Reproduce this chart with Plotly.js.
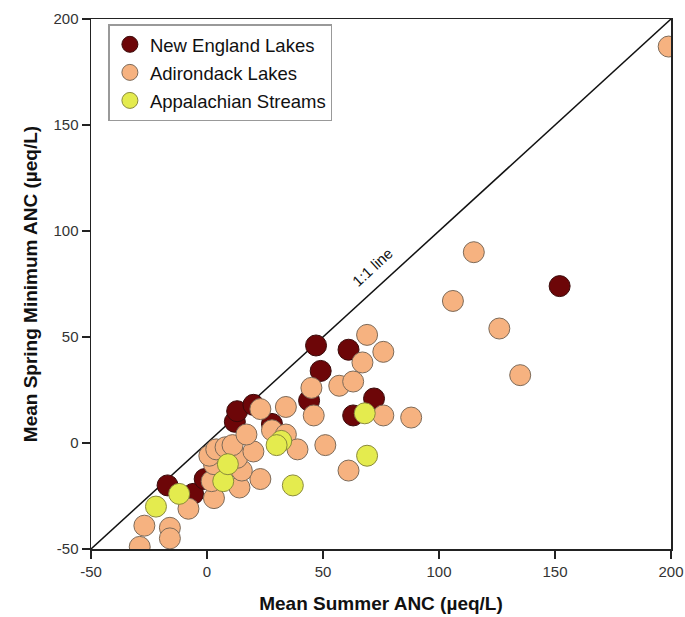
<!DOCTYPE html>
<html>
<head>
<meta charset="utf-8">
<script src="https://cdn.plot.ly/plotly-3.0.1.min.js"></script>
<style>html,body{margin:0;padding:0;background:#fff;}#chart{width:685px;height:617px;}</style>
</head>
<body>
<div id="chart"></div>
<script>
// 1:1 reference line
const lineX = [-50, 200];
const lineY = [-50, 200];

// Axis ticks
const tickVals = [-50, 0, 50, 100, 150, 200];
const tickText = ['-50', '0', '50', '100', '150', '200'];

// New England Lakes
const neX = [-17, -6, -1, 12, 13, 20, 28, 44, 47, 49, 61, 63, 72, 152];
const neY = [-20, -24, -17, 10, 15, 18, 9, 20, 46, 34, 44, 13, 21, 74];

// Adirondack Lakes
const adX = [-29, -27, -16, -16, -8, 3, 2, 14, 23, 15, 3, 13, 1, 4, 8, 11, 20, 17, 23, 34, 28, 34, 39, 51, 61, 46, 45, 57, 63, 67, 69, 76, 76, 88, 106, 115, 126, 135, 199];
const adY = [-49, -39, -40, -45, -31, -26, -18, -21, -17, -13, -10, -7, -6, -3, -2, -1, -4, 4, 16, 17, 6, 4, -3, -1, -13, 13, 26, 27, 29, 38, 51, 43, 13, 12, 67, 90, 54, 32, 187];

// Appalachian Streams
const apX = [-22, -12, 7, 9, 32, 30, 37, 68, 69];
const apY = [-30, -24, -18, -10, 1, -1, -20, 14, -6];

const FONT = 'Liberation Sans, Arial, sans-serif';
const traces = [
  {x: lineX, y: lineY, mode: 'lines', line: {color: '#111', width: 1.5}, showlegend: false, hoverinfo: 'skip'},
  {x: neX, y: neY, mode: 'markers', name: 'New England Lakes', legendgroup: 'a',
   marker: {size: 21, color: '#6d0608', line: {color: '#3a0a0a', width: 1}}},
  {x: adX, y: adY, mode: 'markers', name: 'Adirondack Lakes', legendgroup: 'b',
   marker: {size: 21, color: '#f6b280', line: {color: '#7d6a58', width: 1}}},
  {x: apX, y: apY, mode: 'markers', name: 'Appalachian Streams', legendgroup: 'c',
   marker: {size: 21, color: '#e4eb4e', line: {color: '#8a8a3c', width: 1}}}
];

const axisCommon = {
  range: [-50, 200], tickmode: 'array', tickvals: tickVals, ticktext: tickText,
  showgrid: false, zeroline: false,
  showline: true, linecolor: '#222', linewidth: 1.5, mirror: true,
  ticks: 'outside', ticklen: 8, tickwidth: 1.5, tickcolor: '#222',
  tickfont: {family: FONT, size: 15, color: '#333'}
};

const layout = {
  width: 685, height: 617,
  margin: {l: 91, r: 14, t: 19, b: 68},
  paper_bgcolor: '#fff', plot_bgcolor: '#fff',
  font: {family: FONT, color: '#111'},
  xaxis: Object.assign({}, axisCommon, {
    title: {text: 'Mean Summer ANC (µeq/L)', standoff: 18,
            font: {family: FONT, size: 19, color: '#111', weight: 'bold'}}
  }),
  yaxis: Object.assign({}, axisCommon, {
    title: {text: 'Mean Spring Minimum ANC (µeq/L)', standoff: 11,
            font: {family: FONT, size: 19, color: '#111', weight: 'bold'}}
  }),
  legend: {
    x: 0.03, y: 0.99, xanchor: 'left', yanchor: 'top',
    bgcolor: '#fff', bordercolor: '#999', borderwidth: 1.5,
    font: {family: FONT, size: 18.5, color: '#111'},
    itemsizing: 'trace', traceorder: 'grouped', tracegroupgap: 1
  },
  annotations: [{
    x: 71, y: 83, xref: 'x', yref: 'y', text: '1:1 line', showarrow: false,
    textangle: -42.5, font: {family: FONT, size: 15, color: '#111'}
  }],
  showlegend: true
};

Plotly.newPlot('chart', traces, layout, {displayModeBar: false, staticPlot: true});
</script>
</body>
</html>
